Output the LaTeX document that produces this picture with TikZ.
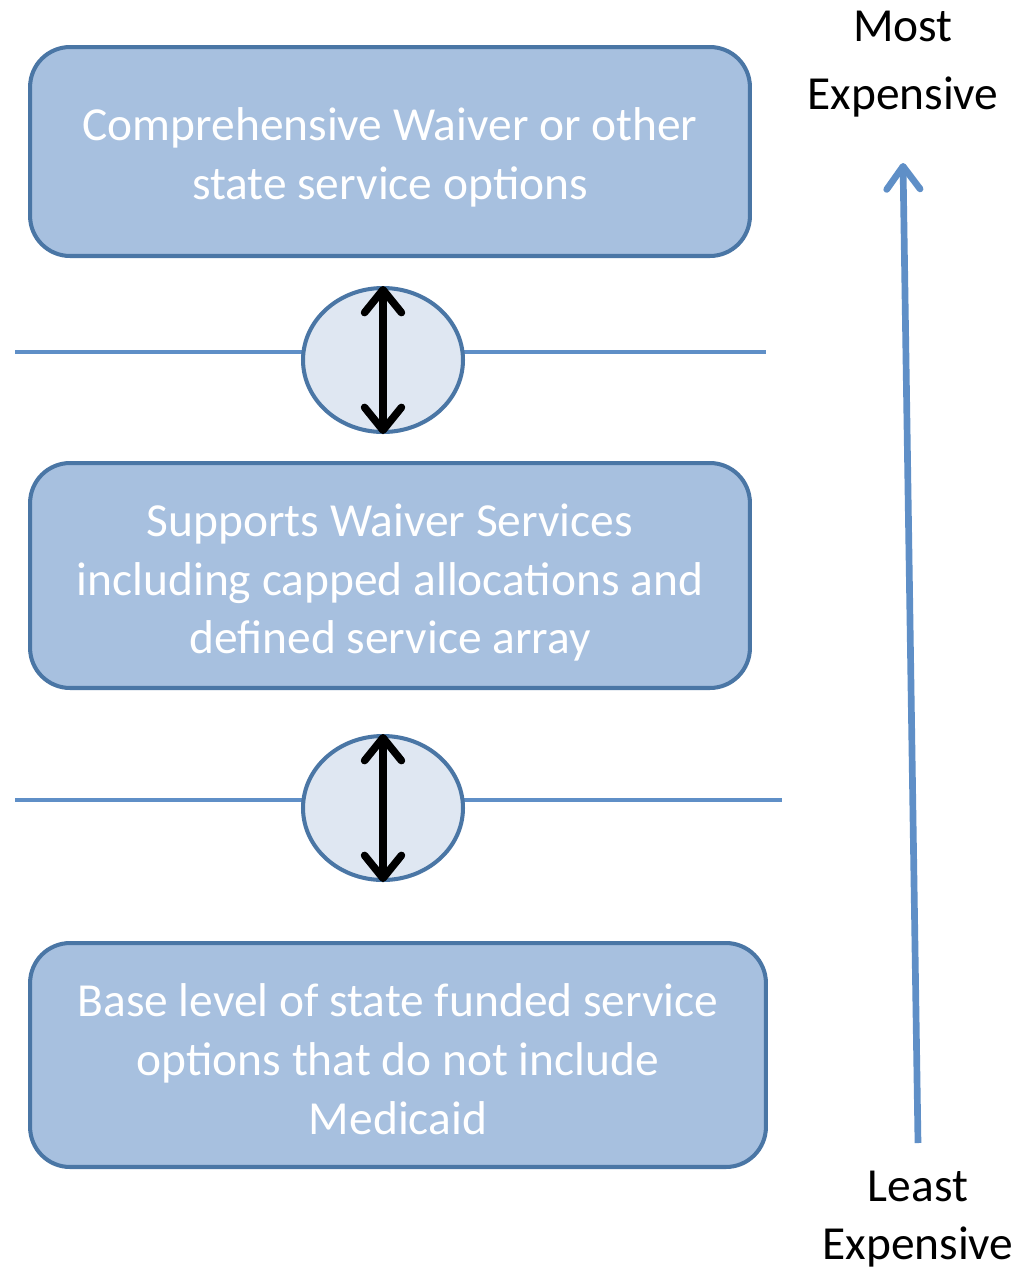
\documentclass[tikz,border=0pt]{standalone}
\usepackage{fontspec}
\setmainfont{Carlito}
\usetikzlibrary{positioning,arrows.meta,shapes.geometric}

\definecolor{boxfill}{HTML}{A7C0DF}
\definecolor{boxedge}{HTML}{4A76A5}
\definecolor{ovalfill}{HTML}{DFE7F2}
\definecolor{rulecol}{HTML}{5F8FC7}

\tikzset{
  tierbox/.style={draw=boxedge, line width=2.3pt, fill=boxfill, rounded corners=0.8cm, inner sep=0pt},
  tiertext/.style={text=white, align=center, font=\fontsize{27}{33.5}\selectfont, inner sep=0pt},
  oval/.style={draw=boxedge, line width=2.3pt, fill=ovalfill, ellipse,
    minimum width=3.2cm, minimum height=2.88cm, inner sep=0pt},
  divider/.style={draw=rulecol, line width=2.3pt},
  updown/.style={{Straight Barb[length=13pt,width=21pt,round]}-{Straight Barb[length=13pt,width=21pt,round]},
    line width=4.3pt, line cap=round},
  costlabel/.style={align=center, font=\fontsize{27}{33}\selectfont},
}

\begin{document}
\begin{tikzpicture}[x=0.02cm, y=-0.02cm, >=Stealth]
  \useasboundingbox[fill=white] (0,0) rectangle (1034,1269);

  % tiers
  \node[tierbox, minimum width=14.4cm, minimum height=4.18cm] (top) at (390,151.5) {};
  \node[tierbox, minimum width=14.4cm, minimum height=4.5cm] (mid) at (390,575.5) {};
  \node[tierbox, minimum width=14.72cm, minimum height=4.48cm] (base) at (398,1055) {};
  \node[tiertext] (toptext) at ([yshift=-0.12cm]top.center)
    {Comprehensive Waiver or other\\state service options};
  \node[tiertext] (midtext) at ([yshift=-0.14cm]mid.center)
    {Supports Waiver Services\\including capped allocations and\\defined service array};
  \node[tiertext] (basetext) at ([yshift=-0.08cm]base.center)
    {Base level of state funded service\\options that do not include\\Medicaid};

  % dividers between tiers
  \coordinate (d1w) at (15,352);
  \coordinate (d1e) at (766,352);
  \coordinate (d2w) at (15,800);
  \coordinate (d2e) at (782,800);
  \draw[divider] (d1w) -- (d1e);
  \draw[divider] (d2w) -- (d2e);

  \node[oval] (o1) at (383,360) {};
  \node[oval] (o2) at (383,808) {};
  \draw[updown] (o1.north) -- (o1.south);
  \draw[updown] (o2.north) -- (o2.south);

  % cost scale
  \node[costlabel, font=\fontsize{27}{39}\selectfont] (most) at (903,64) {Most\\Expensive};
  \node[costlabel] (least) at (918,1219) {Least\\Expensive};
  \coordinate (lo) at (918,1143);
  \coordinate (hi) at (903,163);
  \draw[-{Straight Barb[length=13pt,width=19pt,round]}, draw=rulecol, line width=3.8pt] (lo) -- (hi);
\end{tikzpicture}
\end{document}
